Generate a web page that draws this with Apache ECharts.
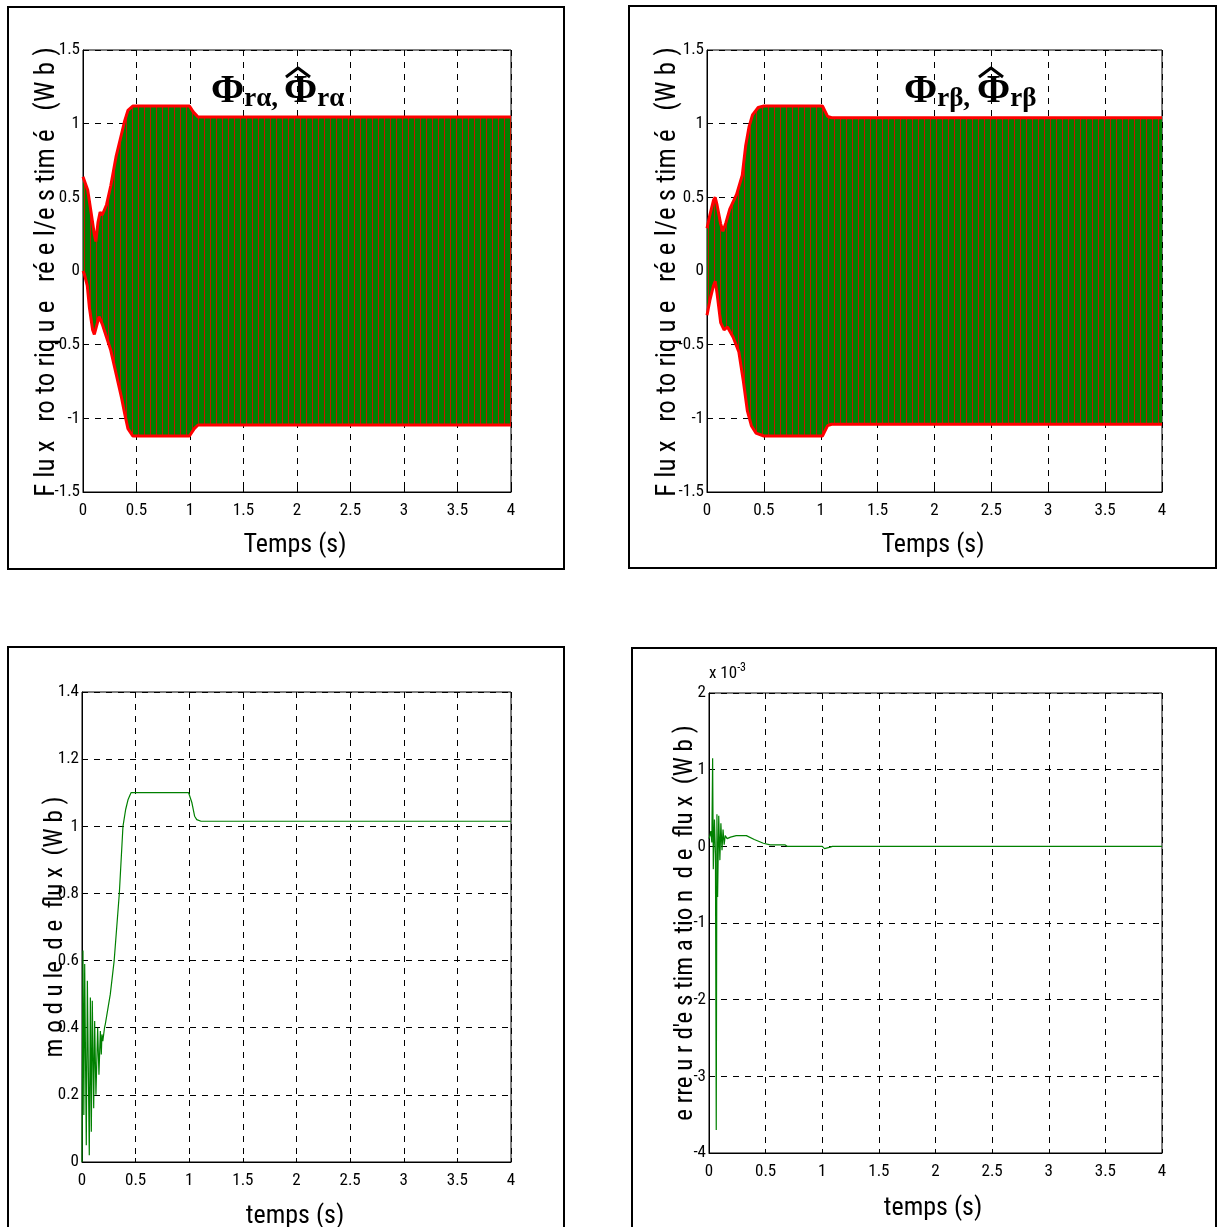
<!DOCTYPE html>
<html>
<head>
<meta charset="utf-8">
<script src="https://cdn.jsdelivr.net/npm/echarts@6/dist/echarts.min.js"></script>
<style>
html,body{margin:0;padding:0;background:#fff;}
#c{width:1218px;height:1227px;}
</style>
</head>
<body>
<div id="c"></div>
<script>
// ---------- DATA ----------
// Panel 1 : rotor flux alpha, envelope of the real/estimated oscillating flux (Wb)
var alphaUpperT = [0, 0.012, 0.044, 0.075, 0.106, 0.12, 0.14, 0.16, 0.18, 0.22, 0.26, 0.31, 0.36, 0.39, 0.42, 0.465, 0.995, 1.03, 1.075, 4.0];
var alphaUpper  = [0.64, 0.65, 0.55, 0.40, 0.25, 0.20, 0.33, 0.40, 0.38, 0.45, 0.58, 0.78, 0.93, 1.02, 1.09, 1.12, 1.12, 1.08, 1.045, 1.045];
var alphaLowerT = [0, 0.012, 0.04, 0.06, 0.09, 0.106, 0.12, 0.15, 0.18, 0.22, 0.26, 0.31, 0.36, 0.39, 0.42, 0.465, 0.995, 1.04, 1.075, 4.0];
var alphaLower  = [0.0, -0.02, -0.10, -0.25, -0.40, -0.43, -0.44, -0.31, -0.36, -0.45, -0.54, -0.70, -0.86, -0.97, -1.07, -1.12, -1.12, -1.07, -1.045, -1.045];

// Panel 2 : rotor flux beta envelope (Wb)
var betaUpperT = [0, 0.025, 0.057, 0.072, 0.088, 0.12, 0.14, 0.167, 0.2, 0.26, 0.31, 0.34, 0.37, 0.40, 0.45, 0.5, 1.015, 1.06, 1.095, 4.0];
var betaUpper  = [0.29, 0.38, 0.48, 0.50, 0.45, 0.32, 0.27, 0.33, 0.42, 0.52, 0.65, 0.85, 0.98, 1.06, 1.11, 1.12, 1.12, 1.05, 1.04, 1.04];
var betaLowerT = [0, 0.025, 0.057, 0.072, 0.088, 0.12, 0.15, 0.18, 0.23, 0.28, 0.32, 0.355, 0.39, 0.43, 0.5, 1.015, 1.06, 1.095, 4.0];
var betaLower  = [-0.30, -0.20, -0.10, -0.07, -0.15, -0.35, -0.40, -0.38, -0.45, -0.55, -0.75, -0.95, -1.05, -1.10, -1.12, -1.12, -1.05, -1.04, -1.04];

// Panel 3 : flux modulus (Wb)
var modT = [0, 0.009, 0.017, 0.025, 0.04, 0.05, 0.068, 0.078, 0.087, 0.096, 0.109, 0.118, 0.13, 0.146, 0.158, 0.171, 0.18, 0.186, 0.194, 0.21, 0.217, 0.264, 0.30, 0.348, 0.382, 0.407, 0.43, 0.457, 0.994, 1.025, 1.05, 1.07, 1.11, 4.0];
var modV = [0, 0.63, 0.14, 0.59, 0.05, 0.54, 0.02, 0.49, 0.09, 0.48, 0.16, 0.42, 0.20, 0.40, 0.26, 0.39, 0.32, 0.38, 0.36, 0.40, 0.41, 0.50, 0.60, 0.80, 1.00, 1.05, 1.08, 1.10, 1.10, 1.07, 1.03, 1.02, 1.015, 1.015];

// Panel 4 : flux estimation error (x 10^-3 Wb)
var errT = [0, 0.01, 0.016, 0.025, 0.032, 0.038, 0.048, 0.057, 0.064, 0.07, 0.076, 0.086, 0.096, 0.105, 0.115, 0.124, 0.134, 0.143, 0.16, 0.19, 0.24, 0.33, 0.40, 0.48, 0.54, 0.67, 0.69, 1.0, 1.02, 1.07, 1.09, 4.0];
var errV = [0.1, 0.15, 0.2, 0.05, 1.15, -0.3, 0.35, -0.1, -3.70, 0.42, -0.66, 0.40, -0.18, 0.30, -0.05, 0.22, 0.02, 0.14, 0.10, 0.12, 0.14, 0.14, 0.09, 0.04, 0.02, 0.02, 0.0, 0.0, -0.03, -0.01, 0.0, 0.0];

// Axis ticks
var timeTicks = {min: 0, max: 4, interval: 0.5};
var fluxTicks = {min: -1.5, max: 1.5, interval: 0.5};
var modTicks  = {min: 0, max: 1.4, interval: 0.2};
var errTicks  = {min: -4, max: 2, interval: 1};

// ---------- helpers ----------
function zip(t, v) { return t.map(function (x, i) { return [x, v[i]]; }); }

var NARROW = "'Liberation Sans Narrow','Arial Narrow','Roboto Condensed','Liberation Sans',sans-serif";
var SERIF = "'Liberation Serif','Times New Roman',serif";
var GREEN = '#008000';
var RED = '#ff0000';

// fill texture: green with thin red vertical streaks (dense oscillation look)
var pat = document.createElement('canvas');
pat.width = 6; pat.height = 4;
var pc = pat.getContext('2d');
pc.fillStyle = GREEN; pc.fillRect(0, 0, 6, 4);
pc.fillStyle = '#c01800'; pc.fillRect(0, 0, 1, 4);

var grids = [
  {left: 83, top: 50, width: 428, height: 442},
  {left: 707, top: 50, width: 455, height: 442},
  {left: 82, top: 692, width: 429, height: 470},
  {left: 709, top: 693, width: 453, height: 460}
];
grids.forEach(function (g) { g.show = true; g.borderColor = '#000'; g.borderWidth = 1; g.backgroundColor = 'transparent'; g.containLabel = false; });

function xAx(i) {
  return {
    type: 'value', gridIndex: i, min: timeTicks.min, max: timeTicks.max, interval: timeTicks.interval,
    axisLine: {show: true, onZero: false, lineStyle: {color: '#000'}},
    axisTick: {show: true, inside: true, length: 4, lineStyle: {color: '#000'}},
    axisLabel: {color: '#000', fontSize: 17, fontFamily: NARROW, margin: 10},
    splitLine: {show: true, lineStyle: {color: '#000', type: [6, 6], width: 1}}
  };
}
function yAx(i, tk) {
  return {
    type: 'value', gridIndex: i, min: tk.min, max: tk.max, interval: tk.interval,
    axisLine: {show: true, onZero: false, lineStyle: {color: '#000'}},
    axisTick: {show: true, inside: true, length: 4, lineStyle: {color: '#000'}},
    axisLabel: {color: '#000', fontSize: 17, fontFamily: NARROW, margin: 3},
    splitLine: {show: true, lineStyle: {color: '#000', type: [6, 6], width: 1}}
  };
}

function envSeries(idx, t, v) {
  return {
    type: 'line', xAxisIndex: idx, yAxisIndex: idx, data: zip(t, v),
    showSymbol: false, silent: true, animation: false,
    lineStyle: {color: RED, width: 3},
    areaStyle: {origin: 0, opacity: 1, color: {image: pat, repeat: 'repeat'}}
  };
}

function rot(x, y, text, size) {
  return {type: 'text', x: x, y: y, rotation: Math.PI / 2,
    style: {text: text, fontSize: size, fontFamily: NARROW, fill: '#000', align: 'center', verticalAlign: 'middle'}};
}
function hz(x, y, text, size) {
  return {type: 'text', x: x, y: y,
    style: {text: text, fontSize: size, fontFamily: NARROW, fill: '#000', align: 'center', verticalAlign: 'middle'}};
}
function box(x, y, w, h) {
  return {type: 'rect', shape: {x: x, y: y, width: w, height: h}, style: {fill: 'none', stroke: '#000', lineWidth: 2}};
}
var RICH = {
  p: {fontFamily: SERIF, fontWeight: 'bold', fontSize: 40, fill: '#000'},
  s: {fontFamily: SERIF, fontWeight: 'bold', fontSize: 27, fill: '#000', padding: [14, 0, 0, 0]}
};
function titleParts(x, y, sub) {
  var hx = x + 87;
  return [
    {type: 'text', x: x, y: y, style: {rich: RICH, text: '{p|\u03A6}{s|' + sub + ',}', align: 'left', verticalAlign: 'middle'}},
    {type: 'text', x: x + 73, y: y, style: {rich: RICH, text: '{p|\u03A6}{s|' + sub + '}', align: 'left', verticalAlign: 'middle'}},
    {type: 'polyline', shape: {points: [[hx - 12, y - 15], [hx, y - 24], [hx + 12, y - 15]]},
      style: {stroke: '#000', lineWidth: 3, fill: 'none', lineJoin: 'round'}}
  ];
}

var graphics = [
  box(8, 7, 556, 562),
  box(629, 6, 587, 562),
  box(8, 647, 556, 600),
  box(632, 648, 584, 600),
  rot(47, 272, 'F lu x   ro to riq u e   ré e l/e s tim é   (W b )', 27),
  rot(668, 272, 'F lu x   ro to riq u e   ré e l/e s tim é   (W b )', 27),
  rot(56, 927, 'm o d u le  d e  flu x  (W b )', 25),
  rot(686, 923, 'e rre u r d\'e s tim a tio n  d e  flu x  (W b )', 25),
  hz(295, 545, 'Temps (s)', 26),
  hz(933, 545, 'Temps (s)', 26),
  hz(295, 1216, 'temps (s)', 26),
  hz(933, 1208, 'temps (s)', 26),
  {type: 'text', x: 709, y: 662,
    style: {rich: {a: {fontSize: 17, fontFamily: NARROW, fill: '#000'}, b: {fontSize: 12, fontFamily: NARROW, fill: '#000', padding: [0, 0, 12, 0]}},
      text: '{a|x 10}{b|-3}', align: 'left', verticalAlign: 'top'}}
].concat(titleParts(211, 92, 'r\u03B1'), titleParts(904, 92, 'r\u03B2'));

var option = {
  animation: false,
  backgroundColor: '#fff',
  grid: grids,
  xAxis: [xAx(0), xAx(1), xAx(2), xAx(3)],
  yAxis: [yAx(0, fluxTicks), yAx(1, fluxTicks), yAx(2, modTicks), yAx(3, errTicks)],
  series: [
    envSeries(0, alphaUpperT, alphaUpper),
    envSeries(0, alphaLowerT, alphaLower),
    envSeries(1, betaUpperT, betaUpper),
    envSeries(1, betaLowerT, betaLower),
    {type: 'line', xAxisIndex: 2, yAxisIndex: 2, data: zip(modT, modV), showSymbol: false, lineStyle: {color: GREEN, width: 1.2}},
    {type: 'line', xAxisIndex: 3, yAxisIndex: 3, data: zip(errT, errV), showSymbol: false, lineStyle: {color: GREEN, width: 1.2}}
  ],
  graphic: graphics
};

var chart = echarts.init(document.getElementById('c'), null, {renderer: 'canvas'});
chart.setOption(option);
</script>
</body>
</html>
